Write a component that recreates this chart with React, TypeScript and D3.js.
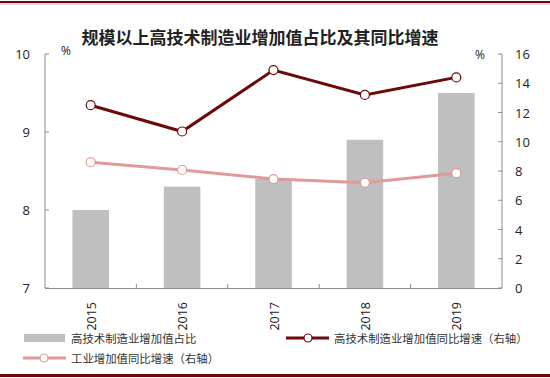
import React from "react";
import * as d3 from "d3";

const years = ["2015", "2016", "2017", "2018", "2019"];
const shareValues = [8.0, 8.3, 8.4, 8.9, 9.5];
const hiTechGrowth = [12.5, 10.7, 14.9, 13.2, 14.4];
const industryGrowth = [8.6, 8.07, 7.45, 7.2, 7.85];
const leftTicks = [7, 8, 9, 10];
const rightTicks = [0, 2, 4, 6, 8, 10, 12, 14, 16];

const W = 550, H = 378;
const left = 45, right = 502, top = 54, bottom = 288;
const DARK = "#6b0a0a";
const LIGHT = "#e09a98";
const GRAY = "#bfbfbf";
const AXIS = "#8c8c8c";
const cjk = "'Noto Sans CJK SC', sans-serif";
const latin = "'Open Sans', 'DejaVu Sans', sans-serif";

export default function App() {
  const x = d3.scaleBand<string>().domain(years).range([left, right]).paddingInner(0).paddingOuter(0);
  const yL = d3.scaleLinear().domain([7, 10]).range([bottom, top]);
  const yR = d3.scaleLinear().domain([0, 16]).range([bottom, top]);
  const bw = x.bandwidth() * 0.4;
  const cx = (d: string) => (x(d) as number) + x.bandwidth() / 2;
  const lineGen = (vals: number[]) =>
    d3.line<number>().x((_, i) => cx(years[i])).y((v) => yR(v))(vals) as string;

  return (
    <svg width={W} height={H} style={{ position: "absolute", left: 0, top: 0 }}>
      <rect x={0} y={0} width={W} height={H} fill="#fff" />
      <line x1={0} x2={W} y1={2} y2={2} stroke={DARK} strokeWidth={2} />
      <line x1={0} x2={W} y1={4} y2={4} stroke="#d9b0b0" strokeWidth={1} />
      <line x1={0} x2={W} y1={375.5} y2={375.5} stroke={DARK} strokeWidth={3} />

      <text x={260} y={44} textAnchor="middle" fontFamily={cjk} fontSize={17} fontWeight={700} fill="#222">
        规模以上高技术制造业增加值占比及其同比增速
      </text>

      {/* bars */}
      {years.map((yr, i) => (
        <rect key={yr} x={cx(yr) - bw / 2} y={yL(shareValues[i])} width={bw}
          height={bottom - yL(shareValues[i])} fill={GRAY} />
      ))}

      {/* axes */}
      <line x1={left} x2={left} y1={top} y2={bottom} stroke={AXIS} />
      <line x1={right} x2={right} y1={top} y2={bottom} stroke={AXIS} />
      <line x1={left} x2={right} y1={bottom + 0.5} y2={bottom + 0.5} stroke={AXIS} />
      {leftTicks.map((t) => (
        <g key={"l" + t}>
          <line x1={left} x2={left + 4} y1={yL(t)} y2={yL(t)} stroke={AXIS} />
          <text x={30} y={yL(t) + 5} textAnchor="end" fontFamily={latin} fontSize={13} fill="#222">{t}</text>
        </g>
      ))}
      {rightTicks.map((t) => (
        <g key={"r" + t}>
          <line x1={right - 4} x2={right} y1={yR(t)} y2={yR(t)} stroke={AXIS} />
          <text x={515} y={yR(t) + 5} textAnchor="start" fontFamily={latin} fontSize={13} fill="#222">{t}</text>
        </g>
      ))}
      {years.slice(1).map((yr) => (
        <line key={"xt" + yr} x1={x(yr) as number} x2={x(yr) as number} y1={bottom} y2={bottom - 4} stroke={AXIS} />
      ))}
      <text x={66} y={55} textAnchor="middle" fontFamily={latin} fontSize={12} fill="#222">%</text>
      <text x={480} y={59} textAnchor="middle" fontFamily={latin} fontSize={12} fill="#222">%</text>

      {years.map((yr) => (
        <text key={"xl" + yr} transform={`translate(${cx(yr) + 5},${302}) rotate(-90)`}
          textAnchor="end" fontFamily={latin} fontSize={12.5} fill="#222">{yr}</text>
      ))}

      {/* lines */}
      <path d={lineGen(industryGrowth)} fill="none" stroke={LIGHT} strokeWidth={3} />
      {industryGrowth.map((v, i) => (
        <circle key={"ig" + i} cx={cx(years[i])} cy={yR(v)} r={4.5} fill="#fff" stroke={LIGHT} strokeWidth={1.2} />
      ))}
      <path d={lineGen(hiTechGrowth)} fill="none" stroke={DARK} strokeWidth={3} />
      {hiTechGrowth.map((v, i) => (
        <circle key={"hg" + i} cx={cx(years[i])} cy={yR(v)} r={4.5} fill="#fff" stroke={DARK} strokeWidth={1.2} />
      ))}

      {/* legend */}
      <rect x={24} y={334} width={41} height={8} fill={GRAY} />
      <text x={71} y={343} fontFamily={cjk} fontSize={11.4} fill="#333">高技术制造业增加值占比</text>
      <line x1={286} x2={329} y1={338} y2={338} stroke={DARK} strokeWidth={3} />
      <circle cx={308} cy={338} r={4} fill="#fff" stroke={DARK} strokeWidth={1.2} />
      <text x={334} y={343} fontFamily={cjk} fontSize={11.4} fill="#333">高技术制造业增加值同比增速（右轴）</text>
      <line x1={23} x2={66} y1={358} y2={358} stroke={LIGHT} strokeWidth={3} />
      <circle cx={44} cy={358} r={4} fill="#fff" stroke={LIGHT} strokeWidth={1.2} />
      <text x={71} y={363} fontFamily={cjk} fontSize={11.4} fill="#333">工业增加值同比增速（右轴）</text>
    </svg>
  );
}
